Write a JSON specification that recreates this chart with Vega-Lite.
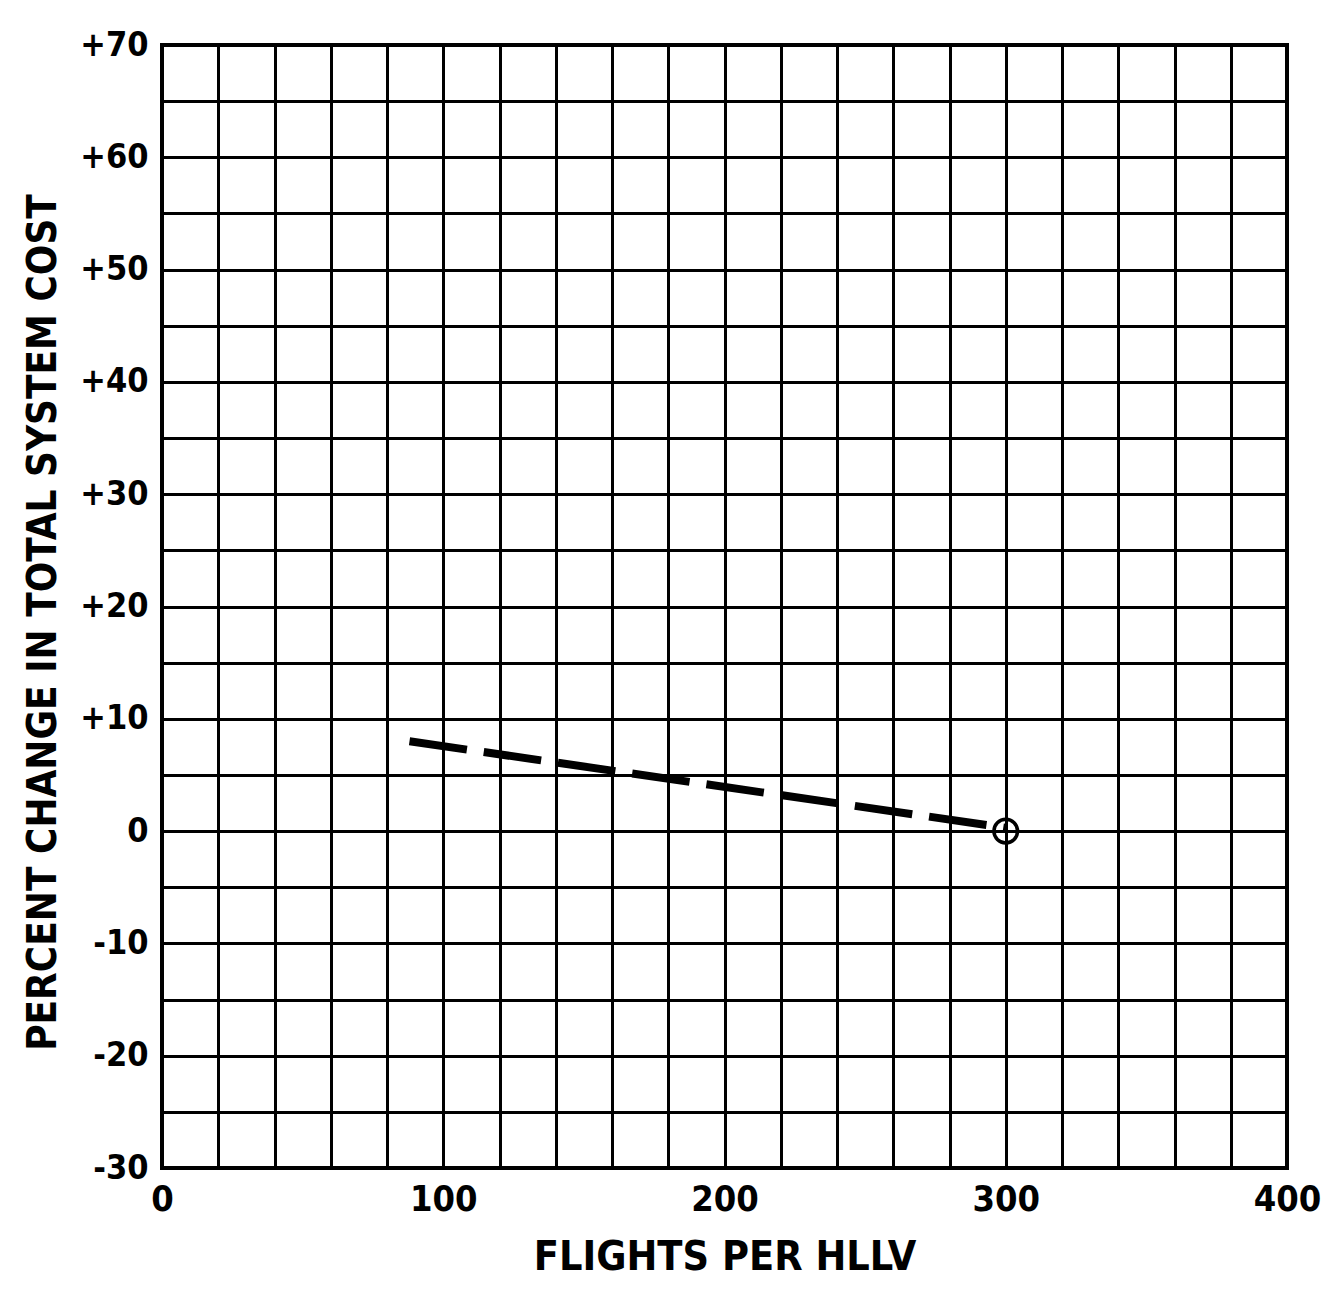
{
  "$schema": "https://vega.github.io/schema/vega-lite/v6.json",
  "width": 1125,
  "height": 1123,
  "autosize": {"type": "none"},
  "padding": {"left": 162, "top": 45, "right": 39, "bottom": 123},
  "background": "white",
  "config": {
    "view": {"stroke": "black", "strokeWidth": 4},
    "font": "DejaVu Sans Condensed, Liberation Sans, sans-serif",
    "axis": {
      "gridColor": "black",
      "gridWidth": 3,
      "gridOpacity": 1,
      "ticks": false,
      "domain": false,
      "labelFont": "DejaVu Sans Condensed, Liberation Sans, sans-serif",
      "labelFontWeight": "bold",
      "labelColor": "black",
      "titleFont": "DejaVu Sans Condensed, Liberation Sans, sans-serif",
      "titleFontWeight": "bold",
      "titleColor": "black"
    }
  },
  "datasets": {
    "curve": [
      {"flights": 88, "pct": 8.0},
      {"flights": 300, "pct": 0.3}
    ],
    "marker": [
      {"flights": 300, "pct": 0}
    ]
  },
  "layer": [
    {
      "data": {"name": "curve"},
      "mark": {"type": "line", "color": "black", "strokeWidth": 8, "strokeDash": [58, 17], "strokeCap": "butt"},
      "encoding": {
        "x": {
          "field": "flights", "type": "quantitative",
          "scale": {"domain": [0, 400], "nice": false},
          "axis": {
            "values": [0,20,40,60,80,100,120,140,160,180,200,220,240,260,280,300,320,340,360,380,400],
            "labelExpr": "datum.value % 100 == 0 ? datum.label : ''",
            "labelFontSize": 36,
            "labelPadding": 14,
            "labelFlush": false,
            "title": "FLIGHTS PER HLLV",
            "titleFontSize": 41,
            "titlePadding": 20
          }
        },
        "y": {
          "field": "pct", "type": "quantitative",
          "scale": {"domain": [-30, 70], "nice": false},
          "axis": {
            "values": [-30,-25,-20,-15,-10,-5,0,5,10,15,20,25,30,35,40,45,50,55,60,65,70],
            "labelExpr": "datum.value % 10 == 0 ? (datum.value > 0 ? '+' + datum.value : '' + datum.value) : ''",
            "labelFontSize": 34,
            "labelPadding": 14,
            "labelFlush": false,
            "title": "PERCENT CHANGE IN TOTAL SYSTEM COST",
            "titleFontSize": 40,
            "titlePadding": 16,
            "titleY": 577
          }
        }
      }
    },
    {
      "data": {"name": "marker"},
      "mark": {"type": "point", "shape": "circle", "filled": false, "color": "black", "strokeWidth": 3.5, "size": 560, "opacity": 1},
      "encoding": {
        "x": {"field": "flights", "type": "quantitative"},
        "y": {"field": "pct", "type": "quantitative"}
      }
    }
  ]
}
